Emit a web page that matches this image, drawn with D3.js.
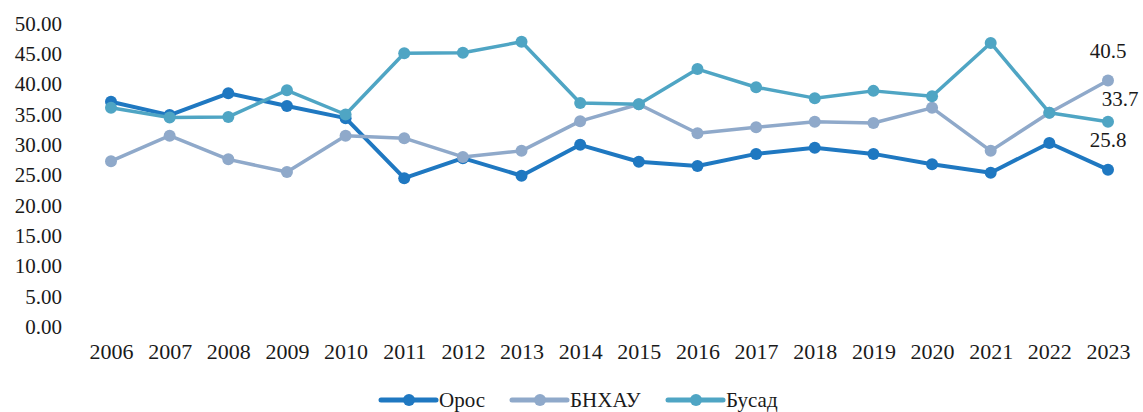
<!DOCTYPE html>
<html>
<head>
<meta charset="utf-8">
<script src="https://cdn.jsdelivr.net/npm/d3@7"></script>
<style>
  body { margin: 0; background: #fff; }
  text { font-family: "Liberation Serif", "Times New Roman", serif; fill: #1a1a1a; }
</style>
</head>
<body>
<svg id="chart" width="1143" height="412"></svg>
<script>
// data
var years = ["2006","2007","2008","2009","2010","2011","2012","2013","2014",
             "2015","2016","2017","2018","2019","2020","2021","2022","2023"];
var seriesNames = ["Орос", "БНХАУ", "Бусад"];
var orosValues  = [37.0, 34.8, 38.4, 36.3, 34.3, 24.4, 27.7, 24.8, 29.9, 27.1, 26.4, 28.4, 29.4, 28.4, 26.7, 25.3, 30.2, 25.8];
var bnhauValues = [27.2, 31.4, 27.5, 25.4, 31.4, 31.0, 27.9, 28.9, 33.8, 36.6, 31.8, 32.8, 33.7, 33.5, 36.0, 28.9, 35.2, 40.5];
var busadValues = [36.0, 34.4, 34.5, 38.9, 34.9, 45.0, 45.1, 46.9, 36.8, 36.6, 42.4, 39.4, 37.6, 38.8, 37.9, 46.7, 35.2, 33.7];
var yTicks = [0, 5, 10, 15, 20, 25, 30, 35, 40, 45, 50];
var endLabels = ["25.8", "40.5", "33.7"];

var colors = ["#1f78c1", "#8fa9ca", "#4fa5c4"];
var lineWidths = [4, 3.5, 3.5];

var svg = d3.select("#chart");

var x = d3.scalePoint()
    .domain(years)
    .range([111, 1108]);

var y = d3.scaleLinear()
    .domain([0, 50])
    .range([326, 23]);

// y axis labels
var axisY = d3.axisLeft(y)
    .tickValues(yTicks)
    .tickSize(0)
    .tickPadding(0)
    .tickFormat(d3.format(".2f"));

svg.append("g")
    .attr("class", "axisY")
    .attr("transform", "translate(62,0)")
    .call(axisY)
    .call(function(g){ g.select(".domain").remove(); })
    .selectAll("text")
    .style("font-size", "21px")
    .attr("dy", "0.35em");

// x axis labels
var axisX = d3.axisBottom(x)
    .tickSize(0)
    .tickPadding(0);

svg.append("g")
    .attr("class", "axisX")
    .attr("transform", "translate(0,343)")
    .call(axisX)
    .call(function(g){ g.select(".domain").remove(); })
    .selectAll("text")
    .style("font-size", "22px");

var allSeries = [orosValues, bnhauValues, busadValues];

var line = d3.line()
    .x(function(d, i) { return x(years[i]); })
    .y(function(d) { return y(d); });

allSeries.forEach(function(vals, k){
    var g = svg.append("g").attr("class", "series");
    g.append("path")
        .datum(vals)
        .attr("d", line)
        .attr("fill", "none")
        .attr("stroke", colors[k])
        .attr("stroke-width", lineWidths[k])
        .attr("stroke-linejoin", "round");
    g.selectAll("circle")
        .data(vals)
        .enter().append("circle")
        .attr("cx", function(d, i) { return x(years[i]); })
        .attr("cy", function(d) { return y(d); })
        .attr("r", 6)
        .attr("fill", colors[k]);
});

// labels for last year
var labelPos = [
    {dx: 0,  dy: -30},   // Орос
    {dx: 0,  dy: -30},   // БНХАУ
    {dx: 12, dy: -23}    // Бусад
];
allSeries.forEach(function(vals, k){
    var last = vals[vals.length - 1];
    svg.append("text")
        .attr("x", x(years[years.length - 1]) + labelPos[k].dx)
        .attr("y", y(last) + labelPos[k].dy)
        .attr("text-anchor", "middle")
        .attr("dy", "0.35em")
        .style("font-size", "21px")
        .text(endLabels[k]);
});

// legend
var legendX = [381, 512, 668];
var legend = svg.append("g").attr("class", "legend");
seriesNames.forEach(function(name, k){
    var lg = legend.append("g")
        .attr("transform", "translate(" + legendX[k] + ",400)");
    lg.append("line")
        .attr("x1", 0).attr("x2", 55)
        .attr("stroke", colors[k])
        .attr("stroke-width", 5)
        .attr("stroke-linecap", "round");
    lg.append("circle")
        .attr("cx", 28).attr("r", 6)
        .attr("fill", colors[k]);
    lg.append("text")
        .attr("x", 58)
        .attr("dy", "0.35em")
        .style("font-size", "21px")
        .text(name);
});
</script>
</body>
</html>
